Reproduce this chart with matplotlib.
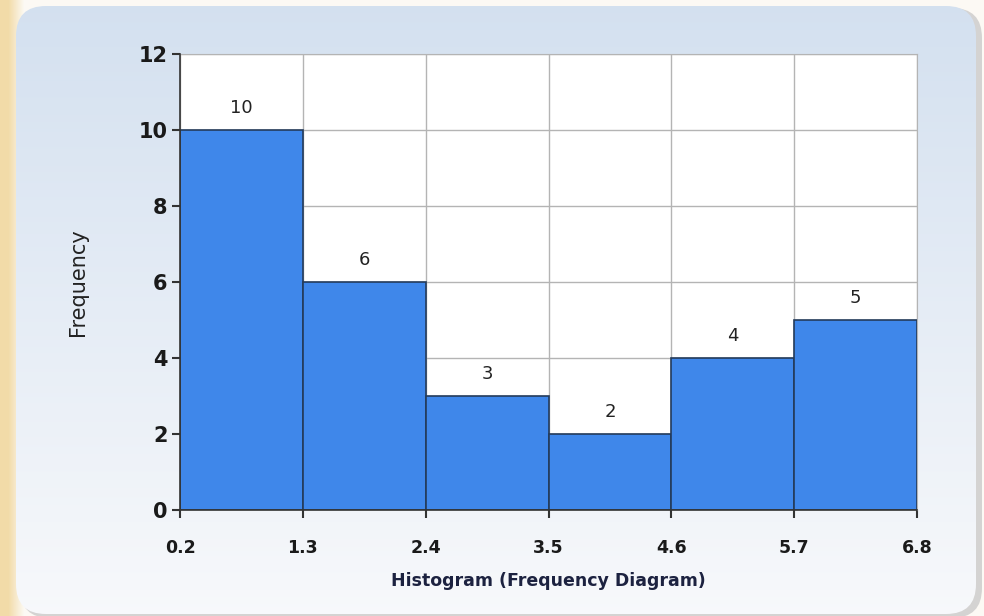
import numpy as np
import matplotlib
matplotlib.use('Agg')
import matplotlib.pyplot as plt
from matplotlib.patches import FancyBboxPatch

# Data
bin_edges = [0.2, 1.3, 2.4, 3.5, 4.6, 5.7, 6.8]
frequency = [10, 6, 3, 2, 4, 5]
y_ticks = [0, 2, 4, 6, 8, 10, 12]

fig = plt.figure(figsize=(9.84, 6.16), dpi=100)

# Background: white page, beige strip on the left, rounded gradient panel
bg = fig.add_axes([0, 0, 1, 1], zorder=-10)
bg.axis('off')
xs = np.linspace(0, 984, 984)
w = np.clip((24 - xs) / 16, 0, 1)[None, :]
beige = np.array([0.95, 0.86, 0.66])
white = np.array([0.99, 0.98, 0.96])
page = white[None, None, :] * (1 - w[..., None]) + beige[None, None, :] * w[..., None]
bg.imshow(page, extent=[0, 984, 616, 0], aspect='auto', zorder=0)

# soft shadow on the right edge
shadow = FancyBboxPatch((20, 8), 962, 610, boxstyle='round,pad=0,rounding_size=30',
                        facecolor='#c4c4c4', edgecolor='none', alpha=0.7, zorder=1)
bg.add_patch(shadow)
panel = FancyBboxPatch((16, 6), 960, 608, boxstyle='round,pad=0,rounding_size=30',
                       facecolor='none', edgecolor='none', zorder=2)
bg.add_patch(panel)
grad = np.linspace(0, 1, 256)[:, None]
top = np.array([0.83, 0.88, 0.94])
bot = np.array([0.97, 0.975, 0.985])
img = top[None, None, :] * (1 - grad[..., None]) + bot[None, None, :] * grad[..., None]
im = bg.imshow(np.repeat(img, 2, axis=1), extent=[16, 976, 614, 6], aspect='auto', zorder=3)
im.set_clip_path(panel)
bg.set_xlim(0, 984)
bg.set_ylim(616, 0)

# Plot area
ax = fig.add_axes([180 / 984, 1 - 510 / 616, 737 / 984, 456 / 616])
ax.set_facecolor('white')
widths = np.diff(bin_edges)
ax.bar(bin_edges[:-1], frequency, width=widths, align='edge',
       color='#3f87ea', edgecolor='#243b5a', linewidth=1.2, zorder=3)
for left, wd, f in zip(bin_edges[:-1], widths, frequency):
    ax.text(left + wd / 2, f + 0.35, str(f), ha='center', va='bottom',
            fontsize=13, color='#222222', zorder=4)

ax.set_xlim(bin_edges[0], bin_edges[-1])
ax.set_ylim(0, 12)
ax.set_xticks(bin_edges)
ax.set_xticklabels([f'{v:.1f}' for v in bin_edges])
ax.set_yticks(y_ticks)
ax.grid(True, color='#b4b4b4', linewidth=1.0, zorder=0)
ax.set_axisbelow(True)
for s in ['top', 'right']:
    ax.spines[s].set_color('#b4b4b4')
for s in ['left', 'bottom']:
    ax.spines[s].set_color('#333333')
    ax.spines[s].set_linewidth(1.2)
    ax.spines[s].set_zorder(5)

ax.tick_params(axis='y', labelsize=15, length=6, width=1.5, color='#333333', pad=3)
ax.tick_params(axis='x', labelsize=12.5, length=6, width=1.5, color='#333333', pad=15)
for lab in ax.get_yticklabels() + ax.get_xticklabels():
    lab.set_fontweight('bold')
    lab.set_color('#1a1a1a')

ax.set_ylabel('Frequency', fontsize=15, color='#222222', labelpad=36,
              family='DejaVu Sans Condensed')
ax.set_xlabel('Histogram (Frequency Diagram)', fontsize=12.5, color='#1c2240',
              fontweight='bold', labelpad=11)

fig.savefig('out.png', dpi=100)
